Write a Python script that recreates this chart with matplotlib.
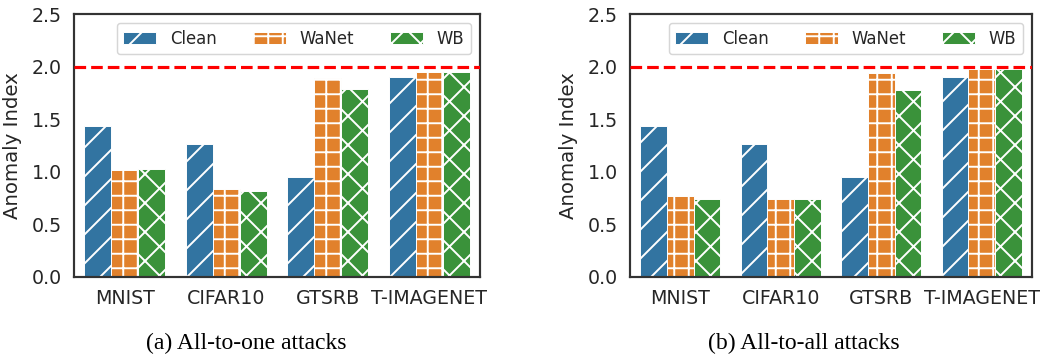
import matplotlib
matplotlib.use("Agg")
import matplotlib.pyplot as plt
import numpy as np

# anomaly index values
datasets = ['MNIST', 'CIFAR10', 'GTSRB', 'T-IMAGENET']
series = ['Clean', 'WaNet', 'WB']

one_clean = [1.44, 1.26, 0.95, 1.90]
one_wanet = [1.02, 0.84, 1.89, 1.95]
one_wb = [1.03, 0.82, 1.79, 1.95]

all_clean = [1.44, 1.26, 0.95, 1.90]
all_wanet = [0.77, 0.74, 1.94, 1.98]
all_wb = [0.74, 0.74, 1.78, 1.98]

threshold = 2.0
captions = ['(a) All-to-one attacks', '(b) All-to-all attacks']

colors = ['#3274a1', '#e1812c', '#3a923a']
hatches = ['//', '++', 'xx']

plt.rcParams['font.family'] = ['DejaVu Sans']
plt.rcParams['hatch.color'] = 'white'
plt.rcParams['hatch.linewidth'] = 0.8

DPI = 174
fig = plt.figure(figsize=(1047 / DPI, 354 / DPI), dpi=DPI)

W, H = 1047, 354
ax_boxes = [(74, 14, 480, 277), (630, 14, 1032, 277)]
caption_x = [246, 804]
panels = [(one_clean, one_wanet, one_wb), (all_clean, all_wanet, all_wb)]

tick_fs = 7.85
leg_fs = 6.85
x = np.arange(len(datasets))
width = 0.8 / 3

for (l, t, r, b), vals, cap, cx in zip(ax_boxes, panels, captions, caption_x):
    ax = fig.add_axes([l / W, 1 - b / H, (r - l) / W, (b - t) / H])
    for i, (name, v) in enumerate(zip(series, vals)):
        ax.bar(x + (i - 1) * width, v, width, color=colors[i], hatch=hatches[i],
               edgecolor='white', linewidth=0.4, label=name)
    ax.axhline(threshold, color='red', linestyle='--', linewidth=1.3, zorder=3)
    ax.set_xlim(-0.5, len(datasets) - 0.5)
    ax.set_ylim(0, 2.5)
    ax.set_yticks([0.0, 0.5, 1.0, 1.5, 2.0, 2.5])
    ax.set_yticklabels(['0.0', '0.5', '1.0', '1.5', '2.0', '2.5'])
    ax.set_xticks(x)
    ax.set_xticklabels(datasets)
    ax.tick_params(length=0, pad=5, labelsize=tick_fs, colors='#262626')
    ax.set_ylabel('Anomaly Index', fontsize=8.2, color='#262626', labelpad=4)
    for s in ax.spines.values():
        s.set_color('#333333')
        s.set_linewidth(0.9)
    leg = ax.legend(loc='upper right', ncol=3, fontsize=leg_fs, handlelength=2.0,
                    handletextpad=0.84, columnspacing=2.15, borderaxespad=0.55,
                    frameon=True, fancybox=True)
    leg.get_frame().set_edgecolor('#cccccc')
    leg.get_frame().set_linewidth(0.6)
    for txt in leg.get_texts():
        txt.set_color('#262626')
    fig.text(cx / W, 1 - 343 / H, cap, ha='center', va='center',
             family='Liberation Serif', fontsize=9.8)

fig.savefig('out.png', dpi=DPI)
